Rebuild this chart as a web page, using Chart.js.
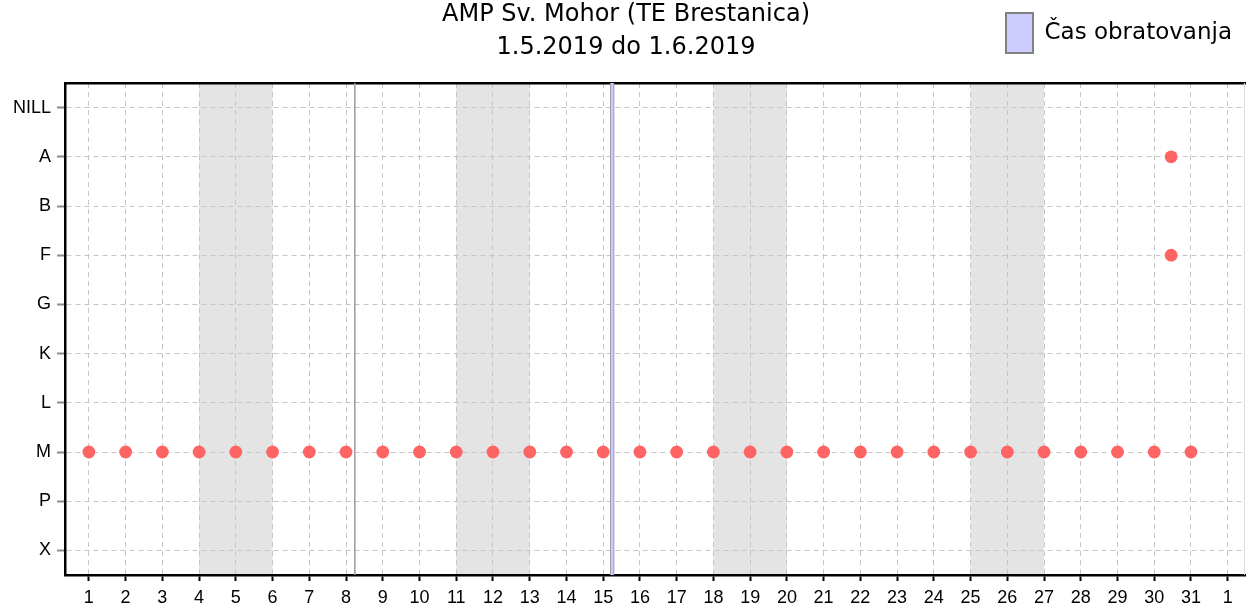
<!DOCTYPE html>
<html>
<head>
<meta charset="utf-8">
<title>AMP Sv. Mohor (TE Brestanica)</title>
<script src="https://cdn.jsdelivr.net/npm/chart.js@4/dist/chart.umd.min.js"></script>
<style>
    html, body { margin: 0; padding: 0; background: #fff; }
    #wrap { width: 1246px; height: 610px; position: relative; }
</style>
</head>
<body>
<div id="wrap"><canvas id="chart"></canvas></div>
<script>
// AMP Sv. Mohor - stanje merilnika, maj 2019

const titleLines = ['AMP Sv. Mohor (TE Brestanica)', '1.5.2019 do 1.6.2019'];

// status categories (top to bottom)
const statusLabels = ['NILL', 'A', 'B', 'F', 'G', 'K', 'L', 'M', 'P', 'X'];

// x axis: day of period (1 = 1.5., 32 = 1.6.)
const dayTicks = [1, 2, 3, 4, 5, 6, 7, 8, 9, 10, 11, 12, 13, 14, 15, 16,
    17, 18, 19, 20, 21, 22, 23, 24, 25, 26, 27, 28, 29, 30, 31, 32];
const dayLabels = ['1', '2', '3', '4', '5', '6', '7', '8', '9', '10', '11', '12', '13', '14', '15', '16',
    '17', '18', '19', '20', '21', '22', '23', '24', '25', '26', '27', '28', '29', '30', '31', '1'];
const xMin = 0.35;
const xMax = 32.47;

// measured status per day
const mDays = [1, 2, 3, 4, 5, 6, 7, 8, 9, 10, 11, 12, 13, 14, 15, 16,
    17, 18, 19, 20, 21, 22, 23, 24, 25, 26, 27, 28, 29, 30, 31];
const aDays = [30.46];
const fDays = [30.46];

// weekends (shaded)
const weekendStart = [4, 11, 18, 25];
const weekendEnd = [6, 13, 20, 27];

// operating time of the plant (Čas obratovanja)
const opStart = [8.237, 15.2];
const opEnd = [8.243, 15.29];
const opLabel = 'Čas obratovanja';

const pointColor = '#ff6464';
const gridColor = '#c6c6c6';
const tickFont = { family: '"Liberation Sans", Arial, sans-serif', size: 18 };

/**
 * Build scatter points for one status
 */
function makePoints(days, status) {
    return days.map(function(d) {
        return { x: d, y: status };
    });
}

/**
 * Background bands: weekends under the grid, operating time above it
 */
const bandsPlugin = {
    id: 'bands',
    beforeDraw: function(chart) {
        const ctx = chart.ctx;
        const area = chart.chartArea;
        const xs = chart.scales.x;
        ctx.save();
        ctx.fillStyle = '#e4e4e4';
        weekendStart.forEach(function(s, i) {
            const x1 = xs.getPixelForValue(s);
            const x2 = xs.getPixelForValue(weekendEnd[i]);
            ctx.fillRect(x1, area.top, x2 - x1, area.bottom - area.top);
        });
        ctx.restore();
    },
    beforeDatasetsDraw: function(chart) {
        const ctx = chart.ctx;
        const area = chart.chartArea;
        const xs = chart.scales.x;
        ctx.save();
        opStart.forEach(function(s, i) {
            const x1 = xs.getPixelForValue(s);
            const x2 = xs.getPixelForValue(opEnd[i]);
            ctx.fillStyle = '#ccccff';
            ctx.fillRect(x1, area.top, x2 - x1, area.bottom - area.top);
            ctx.strokeStyle = '#9a9aa6';
            ctx.lineWidth = 1;
            ctx.beginPath();
            ctx.moveTo(x1, area.top);
            ctx.lineTo(x1, area.bottom);
            ctx.moveTo(x2, area.top);
            ctx.lineTo(x2, area.bottom);
            ctx.stroke();
        });
        // faint right edge of the plot
        ctx.strokeStyle = '#dddddd';
        ctx.beginPath();
        ctx.moveTo(area.right - 0.5, area.top);
        ctx.lineTo(area.right - 0.5, area.bottom);
        ctx.stroke();
        ctx.restore();
    },
    afterDraw: function(chart) {
        const ctx = chart.ctx;
        ctx.save();
        ctx.fillStyle = '#000';
        ctx.font = '24px "DejaVu Sans", sans-serif';
        ctx.textAlign = 'center';
        ctx.textBaseline = 'middle';
        ctx.fillText(titleLines[0], 626, 15);
        ctx.fillText(titleLines[1], 626, 48);
        ctx.restore();
    }
};

const ctx = document.getElementById('chart');

window.statusChart = new Chart(ctx, {
    type: 'scatter',
    data: {
        datasets: [{
            label: 'Status',
            data: makePoints(mDays, 'M')
                .concat(makePoints(aDays, 'A'))
                .concat(makePoints(fDays, 'F')),
            backgroundColor: pointColor,
            borderColor: pointColor,
            borderWidth: 0,
            pointRadius: 6.4,
            pointHoverRadius: 6.4
        }, {
            // legend entry for the operating time bands
            label: opLabel,
            data: [],
            backgroundColor: '#ccccff',
            borderColor: '#808080',
            borderWidth: 2
        }]
    },
    options: {
        responsive: true,
        maintainAspectRatio: false,
        animation: false,
        layout: {
            autoPadding: false,
            padding: { top: 0, right: 1, bottom: 0, left: 0 }
        },
        plugins: {
            title: { display: false },
            tooltip: { enabled: false },
            legend: {
                display: true,
                position: 'top',
                align: 'end',
                labels: {
                    boxWidth: 27,
                    boxHeight: 40,
                    padding: 13,
                    color: '#000',
                    font: { family: '"DejaVu Sans", sans-serif', size: 23 },
                    filter: function(item) {
                        return item.text === opLabel;
                    }
                }
            }
        },
        scales: {
            x: {
                type: 'linear',
                position: 'bottom',
                min: xMin,
                max: xMax,
                afterBuildTicks: function(scale) {
                    scale.ticks = dayTicks.map(function(v) { return { value: v }; });
                },
                afterFit: function(scale) {
                    scale.height = 35;
                    scale.paddingLeft = 0;
                    scale.paddingRight = 0;
                },
                ticks: {
                    autoSkip: false,
                    maxRotation: 0,
                    padding: 6,
                    color: '#000',
                    font: tickFont,
                    callback: function(value, index) {
                        return dayLabels[index];
                    }
                },
                grid: {
                    color: gridColor,
                    lineWidth: 1,
                    tickColor: '#000',
                    tickLength: 6,
                    tickWidth: 2,
                    tickBorderDash: []
                },
                border: {
                    display: true,
                    color: '#000',
                    width: 2.5,
                    dash: [5, 4]
                }
            },
            xTop: {
                type: 'linear',
                position: 'top',
                min: xMin,
                max: xMax,
                afterFit: function(scale) {
                    scale.height = 20;
                    scale.paddingLeft = 0;
                    scale.paddingRight = 0;
                },
                ticks: { display: false },
                grid: { display: false },
                border: { display: true, color: '#000', width: 2.5 }
            },
            y: {
                type: 'category',
                labels: statusLabels,
                offset: true,
                afterFit: function(scale) {
                    scale.width = 65;
                },
                ticks: {
                    padding: 6,
                    color: '#000',
                    font: tickFont
                },
                grid: {
                    offset: false,
                    color: gridColor,
                    lineWidth: 1,
                    tickColor: '#8a8a8a',
                    tickLength: 8,
                    tickWidth: 2,
                    tickBorderDash: []
                },
                border: {
                    display: true,
                    color: '#000',
                    width: 2.5,
                    dash: [5, 4]
                }
            }
        }
    },
    plugins: [bandsPlugin]
});
</script>
</body>
</html>
